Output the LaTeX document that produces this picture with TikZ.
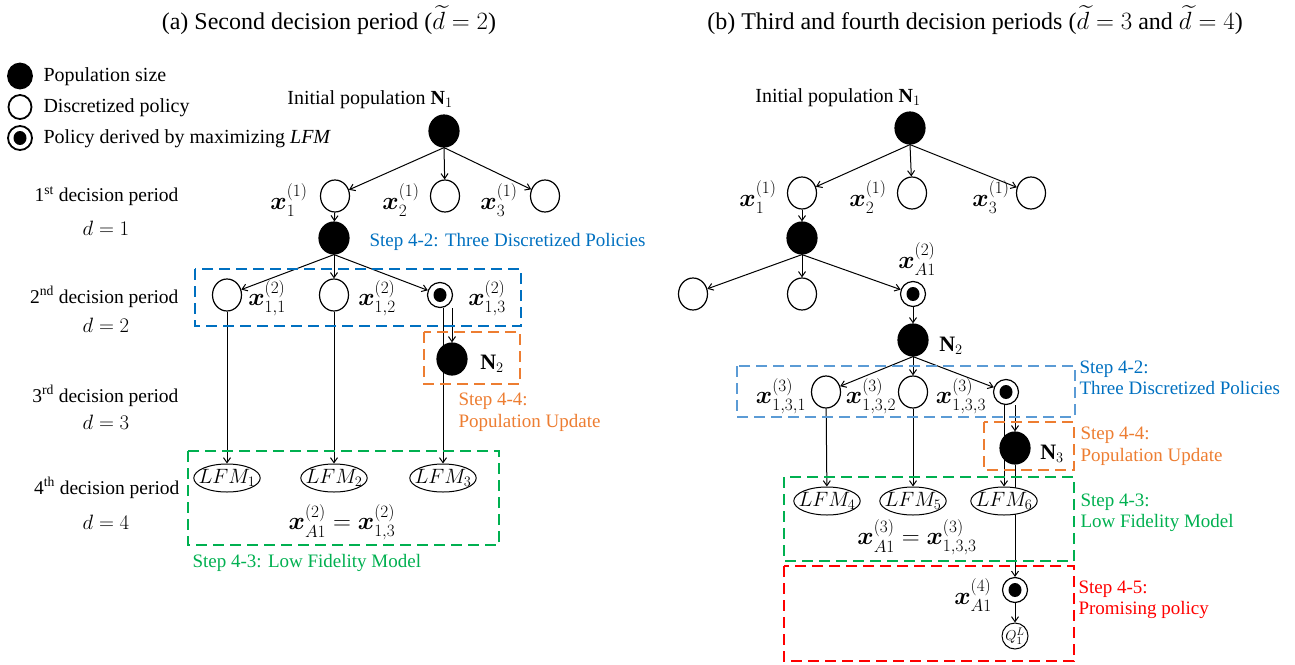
\documentclass[tikz,border=0pt]{standalone}
\usepackage{fontspec}
\setmainfont{Liberation Serif}
\usepackage{amsmath,bm}
\usetikzlibrary{arrows.meta,shapes.geometric,backgrounds}

\definecolor{stepblue}{HTML}{0070C0}
\definecolor{boxblue}{HTML}{5B9BD5}
\definecolor{steporange}{HTML}{ED7D31}
\definecolor{stepgreen}{HTML}{00B050}
\definecolor{stepred}{HTML}{FF0000}

\begin{document}
\begin{tikzpicture}[x=1pt,y=-1pt,
  every node/.style={font=\fontsize{20}{24}\selectfont},
  popnode/.style={ellipse, fill=black, draw=black, line width=1.2pt,
    minimum width=30pt, minimum height=32pt, inner sep=0pt},
  polnode/.style={ellipse, fill=white, draw=black, line width=1.2pt,
    minimum width=29pt, minimum height=32pt, inner sep=0pt},
  bestnode/.style={circle, fill=white, draw=black, line width=1.2pt,
    minimum size=25pt, inner sep=0pt,
    path picture={\fill[black] (path picture bounding box.center) ellipse (6.5pt and 7pt);}},
  legpop/.style={popnode, minimum width=24pt, minimum height=25pt, line width=1.8pt},
  legpol/.style={polnode, minimum width=23pt, minimum height=24pt, line width=1.8pt},
  legbest/.style={bestnode, minimum size=24pt, line width=1.8pt},
  lfmnode/.style={ellipse, fill=white, draw=black, line width=1pt,
    minimum width=62pt, minimum height=28pt, inner xsep=-5pt, inner ysep=-3pt,
    font=\fontsize{19.5}{22}\selectfont},
  qnode/.style={circle, fill=white, draw=black, line width=1pt,
    minimum size=26pt, inner sep=-2pt, font=\fontsize{15}{17}\selectfont},
  link/.style={-{Straight Barb[length=5pt,width=7pt]}, line width=1pt},
  stepbox/.style={line width=2.6pt, dash pattern=on 11pt off 6pt},
  steplabel/.style={anchor=west, align=left, font=\fontsize{19}{21.5}\selectfont},
  titletext/.style={font=\fontsize{24}{28}\selectfont},
  rowlabel/.style={anchor=east, font=\fontsize{19.5}{23}\selectfont},
  rowmath/.style={font=\fontsize{21}{24}\selectfont},
  lbl/.style={font=\fontsize{23}{26}\selectfont, inner sep=0pt},
  nlbl/.style={font=\fontsize{22}{26}\selectfont, inner sep=0pt}
]
\useasboundingbox (0,0) rectangle (1295,664);

% ---------------- panel (a) ----------------
\node[titletext] (ta) at (329,20) {(a) Second decision period ($\widetilde{d}=2$)};

% legend
\node[legpop]  (lg1) at (20,76) {};
\node[anchor=west] (lgt1) at (40,77) {Population size};
\node[legpol]  (lg2) at (20,107) {};
\node[anchor=west] (lgt2) at (40,108) {Discretized policy};
\node[legbest] (lg3) at (20,138) {};
\node[anchor=west] (lgt3) at (40,139) {Policy derived by maximizing \textit{LFM}};

% period labels
\node[rowlabel] (per1) at (182,196) {1\textsuperscript{st} decision period};
\node[rowmath]  (dd1)  at (106,228) {$d=1$};
\node[rowlabel] (per2) at (182,297) {2\textsuperscript{nd} decision period};
\node[rowmath]  (dd2)  at (106,325) {$d=2$};
\node[rowlabel] (per3) at (182,396) {3\textsuperscript{rd} decision period};
\node[rowmath]  (dd3)  at (106,422) {$d=3$};
\node[rowlabel] (per4) at (183,488) {4\textsuperscript{th} decision period};
\node[rowmath]  (dd4)  at (106,522) {$d=4$};

% tree
\node (inita) at (370,100) {Initial population $\mathbf{N}_1$};
\node[popnode] (ra) at (444,131) {};
\node[polnode] (a11) at (335,196) {};
\node[polnode] (a12) at (445,196) {};
\node[polnode] (a13) at (545,196) {};
\node[lbl] (la11) at (289,200) {$\bm{x}_1^{(1)}$};
\node[lbl] (la12) at (401,200) {$\bm{x}_2^{(1)}$};
\node[lbl] (la13) at (499,200) {$\bm{x}_3^{(1)}$};
\node[popnode] (pa) at (334,238) {};
\node[polnode] (a21) at (227,295) {};
\node[polnode] (a22) at (334,295) {};
\node[bestnode] (a23) at (440,295) {};
\node[lbl] (la21) at (267,298) {$\bm{x}_{1,1}^{(2)}$};
\node[lbl] (la22) at (377,298) {$\bm{x}_{1,2}^{(2)}$};
\node[lbl] (la23) at (487,298) {$\bm{x}_{1,3}^{(2)}$};
\node[popnode] (n2a) at (452,359) {};
\node[nlbl] (ln2a) at (492,364) {$\mathbf{N}_2$};
\node[lfmnode] (lfm1) at (227,478) {$LFM_1$};
\node[lfmnode] (lfm2) at (334,478) {$LFM_2$};
\node[lfmnode] (lfm3) at (443,478) {$LFM_3$};
\node[lbl] (eqa) at (342,522) {$\bm{x}_{A1}^{(2)}=\bm{x}_{1,3}^{(2)}$};

% connectors
\draw[link] (ra.south) -- (a11);
\draw[link] (ra.south) -- (a12);
\draw[link] (ra.south) -- (a13);
\draw[link] (a11) -- (pa);
\draw[link] (pa.south) -- (a21);
\draw[link] (pa.south) -- (a22);
\draw[link] (pa.south) -- (a23);
\draw[link] (a21) -- (lfm1);
\draw[link] (a22) -- (lfm2);
\begin{pgfonlayer}{background}
  \draw[link] (a23.south -| lfm3.north) -- (lfm3.north);
\end{pgfonlayer}
\draw[link] (a23.south -| n2a.north) -- (n2a.north);

% step boxes
\draw[stepbox, draw=stepblue]   (195,269) rectangle (521,326);
\draw[stepbox, draw=steporange] (424,332) rectangle (520,384);
\draw[stepbox, draw=stepgreen]  (188,451) rectangle (499,545);
\node[steplabel, text=stepblue]   (sa2) at (366,242) {Step 4-2: Three Discretized Policies};
\node[steplabel, text=steporange] (sa4) at (455,412) {Step 4-4:\\Population Update};
\node[steplabel, text=stepgreen]  (sa3) at (189,563) {Step 4-3: Low Fidelity Model};

% ---------------- panel (b) ----------------
\node[titletext] (tb) at (975,20) {(b) Third and fourth decision periods ($\widetilde{d}=3$ and $\widetilde{d}=4$)};

\node (initb) at (838,98) {Initial population $\mathbf{N}_1$};
\node[popnode] (rb) at (910,128) {};
\node[polnode] (b11) at (802,193) {};
\node[polnode] (b12) at (912,193) {};
\node[polnode] (b13) at (1031,193) {};
\node[lbl] (lb11) at (758,197) {$\bm{x}_1^{(1)}$};
\node[lbl] (lb12) at (868,197) {$\bm{x}_2^{(1)}$};
\node[lbl] (lb13) at (991,197) {$\bm{x}_3^{(1)}$};
\node[popnode] (pb) at (802,238) {};
\node[polnode] (b21) at (693,294) {};
\node[polnode] (b22) at (802,294) {};
\node[bestnode] (b23) at (913,294) {};
\node[lbl] (lb23) at (917,259) {$\bm{x}_{A1}^{(2)}$};
\node[popnode] (n2b) at (913,340) {};
\node[nlbl] (ln2b) at (951,346) {$\mathbf{N}_2$};
\node[polnode] (b31) at (826,392) {};
\node[polnode] (b32) at (913,392) {};
\node[bestnode] (b33) at (1006,392) {};
\node[lbl] (lb31) at (781,396) {$\bm{x}_{1,3,1}^{(3)}$};
\node[lbl] (lb32) at (871,396) {$\bm{x}_{1,3,2}^{(3)}$};
\node[lbl] (lb33) at (961,396) {$\bm{x}_{1,3,3}^{(3)}$};
\node[popnode] (n3b) at (1015,448) {};
\node[nlbl] (ln3b) at (1052,454) {$\mathbf{N}_3$};
\node[lfmnode] (lfm4) at (827,501) {$LFM_4$};
\node[lfmnode] (lfm5) at (913,501) {$LFM_5$};
\node[lfmnode] (lfm6) at (1004,501) {$LFM_6$};
\node[lbl] (eqb) at (917,537) {$\bm{x}_{A1}^{(3)}=\bm{x}_{1,3,3}^{(3)}$};
\node[bestnode] (xa4) at (1015,590) {};
\node[lbl] (lxa4) at (973,595) {$\bm{x}_{A1}^{(4)}$};
\node[qnode] (q1) at (1015,636) {$Q_1^L$};

% connectors
\draw[link] (rb.south) -- (b11);
\draw[link] (rb.south) -- (b12);
\draw[link] (rb.south) -- (b13);
\draw[link] (b11) -- (pb);
\draw[link] (pb.south) -- (b21);
\draw[link] (pb.south) -- (b22);
\draw[link] (pb.south) -- (b23);
\draw[link] (b23) -- (n2b);
\draw[link] (n2b.south) -- (b31);
\draw[link] (n2b.south) -- (b32);
\draw[link] (n2b.south) -- (b33);
\draw[link] (b31) -- (lfm4);
\draw[link] (b32) -- (lfm5);
\begin{pgfonlayer}{background}
  \draw[link] (b33.south -| lfm6.north) -- (lfm6.north);
  \draw[link] (n3b) -- (xa4);
\end{pgfonlayer}
\draw[link] (b33.south -| n3b.north) -- (n3b.north);
\draw[link] (xa4) -- (q1);

% step boxes
\draw[stepbox, draw=boxblue]    (737,366) rectangle (1075,417);
\draw[stepbox, draw=steporange] (984,422) rectangle (1074,470);
\draw[stepbox, draw=stepgreen]  (784,477) rectangle (1074,561);
\draw[stepbox, draw=stepred]    (784,566) rectangle (1074,661);
\node[steplabel, text=stepblue]   (sb2) at (1076,378) {Step 4-2:\\Three Discretized Policies};
\node[steplabel, text=steporange] (sb4) at (1077,446) {Step 4-4:\\Population Update};
\node[steplabel, text=stepgreen]  (sb3) at (1077,513) {Step 4-3:\\Low Fidelity Model};
\node[steplabel, text=stepred]    (sb5) at (1075,600) {Step 4-5:\\Promising policy};
\end{tikzpicture}
\end{document}
